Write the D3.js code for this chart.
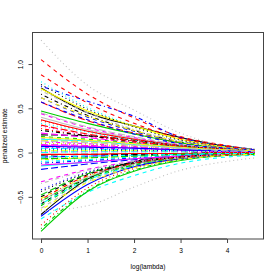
<!DOCTYPE html>
<html>
<head>
<meta charset="utf-8">
<script src="https://cdn.jsdelivr.net/npm/d3@7"></script>
<style>
  html, body { margin: 0; padding: 0; background: #fff; }
  text { font-family: "Liberation Sans", Arial, sans-serif; font-size: 6.6px; fill: #000; }
</style>
</head>
<body>
<div id="chart"></div>
<script>
// sample points along the path (log lambda)
const logLambda = [0, 1, 2, 3, 4, 4.6];

// one row per coefficient, estimate at each logLambda value
const coefPaths = [
    [0.73, 0.45, 0.30, 0.17, 0.07, 0.03],
    [1.05, 0.66, 0.39, 0.18, 0.08, 0.03],
    [0.10, 0.09, 0.06, 0.04, 0.02, 0.01],
    [0.75, 0.58, 0.41, 0.17, 0.07, 0.04],
    [0.05, 0.04, 0.03, 0.02, 0.01, 0.01],
    [0.08, 0.07, 0.05, 0.03, 0.02, 0.01],
    [-0.52, -0.27, -0.13, -0.06, -0.02, -0.01],
    [1.27, 0.76, 0.48, 0.22, 0.07, 0.04],
    [0.66, 0.42, 0.25, 0.12, 0.06, 0.03],
    [0.57, 0.36, 0.22, 0.11, 0.05, 0.03],
    [0.47, 0.33, 0.21, 0.11, 0.05, 0.03],
    [0.62, 0.40, 0.24, 0.12, 0.06, 0.03],
    [0.80, 0.51, 0.30, 0.15, 0.07, 0.03],
    [0.12, 0.10, 0.07, 0.04, 0.02, 0.01],
    [0.02, 0.02, 0.02, 0.01, 0.01, 0.00],
    [0.40, 0.26, 0.16, 0.08, 0.04, 0.02],
    [-0.58, -0.29, -0.13, -0.06, -0.02, -0.01],
    [0.36, 0.24, 0.15, 0.08, 0.04, 0.03],
    [-0.86, -0.43, -0.20, -0.08, -0.03, -0.01],
    [-0.19, -0.13, -0.08, -0.04, -0.02, -0.01],
    [-0.15, -0.11, -0.07, -0.04, -0.02, -0.01],
    [0.44, 0.28, 0.17, 0.09, 0.04, 0.02],
    [-0.06, -0.05, -0.03, -0.02, -0.01, 0.00],
    [0.70, 0.45, 0.26, 0.13, 0.06, 0.03],
    [0.20, 0.19, 0.14, 0.08, 0.04, 0.03],
    [0.37, 0.24, 0.15, 0.08, 0.04, 0.02],
    [-0.60, -0.31, -0.15, -0.06, -0.02, -0.01],
    [-0.42, -0.22, -0.11, -0.05, -0.02, -0.01],
    [-0.58, -0.31, -0.15, -0.07, -0.03, -0.02],
    [0.22, 0.17, 0.11, 0.06, 0.03, 0.02],
    [0.72, 0.47, 0.30, 0.15, 0.06, 0.03],
    [-0.63, -0.33, -0.16, -0.07, -0.03, -0.01],
    [0.77, 0.49, 0.29, 0.14, 0.07, 0.03],
    [0.27, 0.19, 0.12, 0.07, 0.03, 0.02],
    [-0.48, -0.24, -0.11, -0.05, -0.02, -0.01],
    [-0.72, -0.36, -0.16, -0.07, -0.03, -0.01],
    [-0.75, -0.45, -0.26, -0.12, -0.05, -0.03],
    [0.30, 0.20, 0.13, 0.07, 0.03, 0.02],
    [-0.08, -0.06, -0.04, -0.02, -0.01, 0.00],
    [0.45, 0.29, 0.18, 0.09, 0.05, 0.03],
    [-0.70, -0.30, -0.10, -0.04, -0.01, -0.01],
    [0.88, 0.56, 0.33, 0.16, 0.07, 0.03],
    [0.03, 0.03, 0.02, 0.02, 0.01, 0.01],
    [-0.12, -0.09, -0.06, -0.03, -0.01, 0.00],
    [0.00, 0.01, 0.01, 0.01, 0.00, 0.00],
    [-0.14, -0.11, -0.07, -0.04, -0.02, -0.01],
    [0.62, 0.41, 0.25, 0.12, 0.05, 0.03],
    [-0.66, -0.60, -0.39, -0.20, -0.10, -0.06],
    [0.25, 0.19, 0.13, 0.07, 0.04, 0.02],
    [0.31, 0.21, 0.13, 0.07, 0.04, 0.02],
    [-0.89, -0.44, -0.21, -0.09, -0.03, -0.02],
    [0.57, 0.37, 0.21, 0.10, 0.05, 0.03],
    [0.33, 0.23, 0.14, 0.08, 0.04, 0.02],
    [0.06, 0.05, 0.04, 0.03, 0.01, 0.01],
    [0.14, 0.12, 0.08, 0.05, 0.02, 0.01],
    [-0.55, -0.28, -0.13, -0.06, -0.02, -0.01],
    [-0.50, -0.25, -0.12, -0.05, -0.02, -0.01],
    [-0.82, -0.40, -0.18, -0.07, -0.03, -0.01],
    [-0.55, -0.29, -0.14, -0.06, -0.02, -0.01],
    [-0.05, -0.04, -0.03, -0.02, -0.01, 0.00],
    [0.15, 0.13, 0.09, 0.05, 0.02, 0.01],
    [-0.33, -0.19, -0.10, -0.05, -0.02, -0.01],
    [0.11, 0.09, 0.07, 0.04, 0.02, 0.01],
    [-0.35, -0.20, -0.10, -0.05, -0.02, -0.01],
    [-0.03, -0.02, -0.02, -0.01, 0.00, 0.00],
    [-0.02, -0.02, -0.01, -0.01, 0.00, 0.00],
    [0.18, 0.15, 0.11, 0.06, 0.03, 0.02],
    [0.04, 0.04, 0.03, 0.02, 0.01, 0.01],
    [-0.10, -0.08, -0.05, -0.03, -0.01, -0.01],
    [0.09, 0.08, 0.06, 0.03, 0.02, 0.01],
    [0.17, 0.14, 0.10, 0.06, 0.03, 0.02],
    [0.16, 0.13, 0.09, 0.05, 0.03, 0.02],
    [-0.44, -0.23, -0.11, -0.05, -0.02, -0.01],
    [-0.53, -0.26, -0.12, -0.05, -0.02, -0.01],
    [-0.07, -0.06, -0.04, -0.02, -0.01, -0.01],
    [0.07, 0.06, 0.05, 0.03, 0.02, 0.01],
    [-0.05, -0.04, -0.03, -0.02, -0.01, -0.01],
    [0.01, 0.01, 0.01, 0.01, 0.00, 0.00],
    [-0.65, -0.34, -0.17, -0.08, -0.03, -0.02],
    [0.13, 0.11, 0.08, 0.05, 0.02, 0.01]
];

// colours and line types cycle like matplot
const palette = ["#000000", "#FF0000", "#00CD00", "#0000FF", "#00FFFF", "#FF00FF", "#FFFF00", "#BEBEBE"];
const lineTypes = [null, "4,4", "1,3", "1,3,4,3", "7,3"];

const xTicks = [0, 1, 2, 3, 4];
const yTicks = [-0.5, 0, 0.5, 1.0];
const yTickLabels = ["\u22120.5", "0.0", "0.5", "1.0"];

const WIDTH = 280;
const HEIGHT = 280;
const PLOT = { left: 32.5, right: 263.5, top: 32.5, bottom: 239 };
const LINE_H = 7.93;   // one margin line in px
const TICK = 4;
const AXIS_COLOR = "#444";

const svg = d3.select("#chart").append("svg")
    .attr("width", WIDTH)
    .attr("height", HEIGHT)
    .attr("viewBox", [0, 0, WIDTH, HEIGHT]);

// R style 4% padding on both axes
const xExt = d3.extent(logLambda);
const xPad = (xExt[1] - xExt[0]) * 0.04;
const x = d3.scaleLinear()
    .domain([xExt[0] - xPad, xExt[1] + xPad])
    .range([PLOT.left, PLOT.right]);

const yExt = d3.extent(coefPaths.flat());
const yPad = (yExt[1] - yExt[0]) * 0.04;
const y = d3.scaleLinear()
    .domain([yExt[0] - yPad, yExt[1] + yPad])
    .range([PLOT.bottom, PLOT.top]);

svg.append("clipPath").attr("id", "plotclip")
    .append("rect")
    .attr("x", PLOT.left).attr("y", PLOT.top)
    .attr("width", PLOT.right - PLOT.left)
    .attr("height", PLOT.bottom - PLOT.top);

// the paths
const line = d3.line()
    .x((d, i) => x(logLambda[i]))
    .y(d => y(d))
    .curve(d3.curveMonotoneX);

svg.append("g")
    .attr("clip-path", "url(#plotclip)")
    .selectAll("path")
    .data(coefPaths)
    .join("path")
    .attr("d", line)
    .style("fill", "none")
    .style("stroke", (d, i) => palette[i % palette.length])
    .style("stroke-width", 1.1)
    .style("stroke-dasharray", (d, i) => lineTypes[i % lineTypes.length]);

// box
svg.append("rect")
    .attr("x", PLOT.left)
    .attr("y", PLOT.top)
    .attr("width", PLOT.right - PLOT.left)
    .attr("height", PLOT.bottom - PLOT.top)
    .style("fill", "none")
    .style("stroke", AXIS_COLOR)
    .style("stroke-width", 1);

// x axis
const xAxis = d3.axisBottom(x)
    .tickValues(xTicks)
    .tickSize(TICK)
    .tickFormat(d3.format("d"));
const gx = svg.append("g")
    .attr("transform", `translate(0,${PLOT.bottom})`)
    .call(xAxis);
gx.select(".domain")
    .attr("d", `M${x(xTicks[0])},0H${x(xTicks[xTicks.length - 1])}`)
    .attr("stroke", AXIS_COLOR);
gx.selectAll(".tick line").attr("stroke", AXIS_COLOR);
gx.selectAll(".tick text")
    .attr("y", LINE_H * 1.8)
    .attr("dy", null)
    .style("font-size", "6.6px")
    .style("font-family", "'Liberation Sans', Arial, sans-serif");

// y axis
const yAxis = d3.axisLeft(y)
    .tickValues(yTicks)
    .tickSize(TICK)
    .tickFormat((d, i) => yTickLabels[i]);
const gy = svg.append("g")
    .attr("transform", `translate(${PLOT.left},0)`)
    .call(yAxis);
gy.select(".domain")
    .attr("d", `M0,${y(yTicks[0])}V${y(yTicks[yTicks.length - 1])}`)
    .attr("stroke", AXIS_COLOR);
gy.selectAll(".tick line").attr("stroke", AXIS_COLOR);
gy.selectAll(".tick text")
    .attr("x", null)
    .attr("dy", null)
    .attr("transform", `translate(${-LINE_H * 1.2},0) rotate(-90)`)
    .attr("text-anchor", "middle")
    .style("font-size", "6.6px")
    .style("font-family", "'Liberation Sans', Arial, sans-serif");

// axis titles
svg.append("text")
    .text("log(lambda)")
    .attr("x", (PLOT.left + PLOT.right) / 2)
    .attr("y", PLOT.bottom + LINE_H * 3.8)
    .attr("text-anchor", "middle");

svg.append("text")
    .text("penalized estimate")
    .attr("transform", `translate(${PLOT.left - LINE_H * 3.2},${(PLOT.top + PLOT.bottom) / 2}) rotate(-90)`)
    .attr("text-anchor", "middle");
</script>
</body>
</html>
